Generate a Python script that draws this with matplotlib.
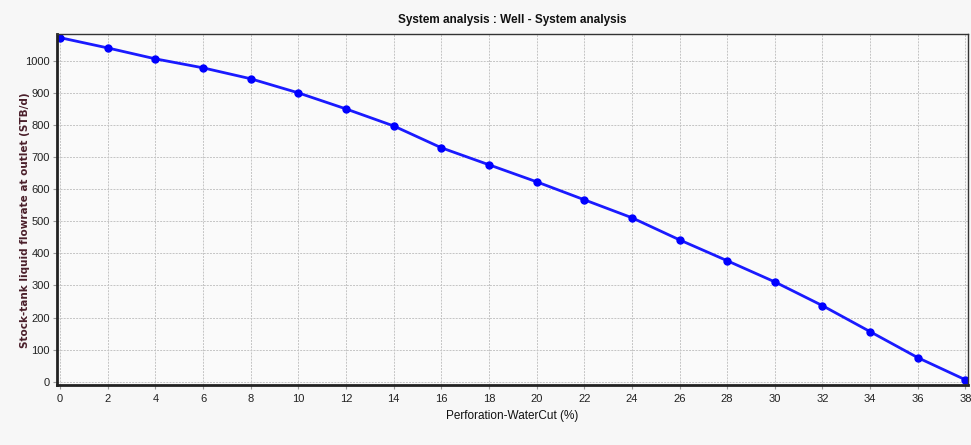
import matplotlib.pyplot as plt
import numpy as np

water_cut = [0, 2, 4, 6, 8, 10, 12, 14, 16, 18, 20, 22, 24, 26, 28, 30, 32, 34, 36, 38]
liquid_rate = [1072, 1040, 1006, 978, 944, 900, 850, 797, 729, 676,
               623, 567, 511, 442, 377, 311, 237, 156, 75, 6]
x_ticks = list(range(0, 40, 2))
y_ticks = list(range(0, 1100, 100))

plt.rcParams['font.family'] = ['Liberation Sans', 'DejaVu Sans']

fig = plt.figure(figsize=(9.71, 4.45), dpi=100, facecolor='#f7f7f7')
ax = fig.add_axes([0.0587, 0.135, 0.938, 0.789], facecolor='#fafafa')

ax.plot(water_cut, liquid_rate, color='#1a1aff', lw=2, marker='o', ms=5,
        markerfacecolor='#0000ff', markeredgecolor='#0000ff')

ax.set_xlim(-0.13, 38.1)
ax.set_ylim(-10, 1084)
ax.set_xticks(x_ticks)
ax.set_yticks(y_ticks)
ax.grid(True, color='#c4c4c4', ls=(0, (2, 1.2)), lw=0.7)
ax.tick_params(labelsize=8, length=3, color='#999999', labelcolor='#222222')
ax.tick_params(axis='y', pad=2)

for side in ['top', 'right']:
    ax.spines[side].set_color('#333333')
    ax.spines[side].set_linewidth(1)
for side in ['left', 'bottom']:
    ax.spines[side].set_color('#222222')
    ax.spines[side].set_linewidth(2)

ax.set_title('System analysis : Well - System analysis', fontsize=8.5,
             fontweight='bold', color='#111111', pad=8)
ax.set_xlabel('Perforation-WaterCut (%)', fontsize=8.5, color='#111111', labelpad=4)
ax.set_ylabel('Stock-tank liquid flowrate at outlet (STB/d)', fontsize=7.5,
              fontweight='bold', color='#4a1f2a', family=['DejaVu Sans'])
ax.yaxis.set_label_coords(-0.03, 0.47)

fig.savefig('out.png', dpi=100, facecolor=fig.get_facecolor())
